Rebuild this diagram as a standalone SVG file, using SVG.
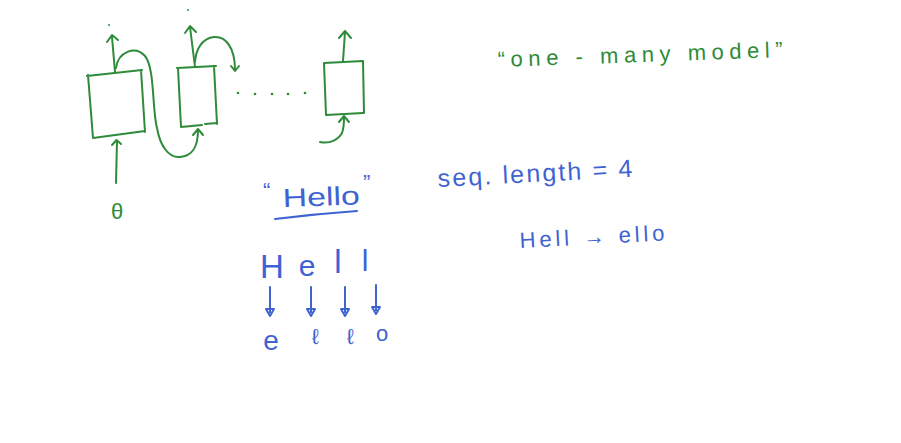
<svg xmlns="http://www.w3.org/2000/svg" width="901" height="443" viewBox="0 0 901 443">
<style>
.g{stroke:#2e8b3a;stroke-width:2;fill:none;stroke-linecap:round;stroke-linejoin:round}
.b{stroke:#3f63d2;stroke-width:2;fill:none;stroke-linecap:round;stroke-linejoin:round}
.tg{fill:#2e8b3a;font-family:"Liberation Sans",Arial,sans-serif}
.tb{fill:#3f63d2;font-family:"Liberation Sans",Arial,sans-serif}
</style>
<rect width="901" height="443" fill="#ffffff"/>
<g id="cell1">
<path class="g" d="M87,76 L142,70 M88,75 L93,138 L145,131 M141,70 L145,132"/>
</g>
<g id="cell2">
<path class="g" d="M177,68 L216,66 M178,68 L181,127 L202,125 M205,124 L217,123 M214,66 L217,124"/>
</g>
<g id="cell3">
<path class="g" d="M324,63 L363,61 M324,63 L326,115 L363,113 M363,61 L364,113"/>
</g>
<g id="input">
<text class="tg" x="117" y="219" font-size="22" text-anchor="middle">θ</text>
</g>
<g id="ellipsis" fill="#2e8b3a">
<circle cx="238" cy="93" r="1.3"/><circle cx="255" cy="94" r="1.3"/><circle cx="272" cy="94" r="1.3"/><circle cx="288" cy="94" r="1.3"/><circle cx="305" cy="93" r="1.3"/>
<circle cx="109" cy="25" r="1"/><circle cx="188" cy="10" r="1"/>
</g>
<g id="connectors">
<path class="g" d="M116,183 L117,141 M112,145 L116.5,140 L121,144"/>
<path class="g" d="M115,72 L112,37 M107,42 L112,35 L118,40"/>
<path class="g" d="M116,68 C118,52 135,45 145,56 C155,68 152,110 157,128 C160,145 168,158 180,157 C192,156 198,148 198,130 M193,135 L198,129 L203,135"/>
<path class="g" d="M195,67 L190,27 M185,33 L190,26 L196,32"/>
<path class="g" d="M195,62 C196,48 203,38 214,37 C226,36 235,48 235,70 M231,66 L235,71 L239,66"/>
<path class="g" d="M343,61 L345,32 M339,38 L345,31 L351,38"/>
<path class="g" d="M320,142 C330,144 338,140 342,133 C344,128 344,122 344,117 M339,122 L344,116 L349,122"/>
<path class="b" d="M270,287 V312 M266,309 L270,316 L274,309 Z"/>
<path class="b" d="M311,287 V312 M307,309 L311,316 L315,309 Z"/>
<path class="b" d="M345,287 V312 M341,309 L345,316 L349,309 Z"/>
<path class="b" d="M376,285 V310 M372,307 L376,314 L380,307 Z"/>
<path class="b" d="M275,219 Q315,214 357,211"/>
</g>
<g id="title">
<text class="tg" x="498" y="67" font-size="22" textLength="285" lengthAdjust="spacing" transform="rotate(-2 498 67)">“one - many model”</text>
</g>
<g id="hello">
<text class="tb" x="263" y="198" font-size="22">“</text>
<text class="tb" x="283" y="207" font-size="26" textLength="77" lengthAdjust="spacingAndGlyphs" transform="rotate(-2 283 207)">Hello</text>
<text class="tb" x="363" y="190" font-size="22">”</text>
</g>
<g id="seq">
<text class="tb" x="438" y="187" font-size="25" textLength="195" lengthAdjust="spacing" transform="rotate(-3 438 187)">seq. length = 4</text>
</g>
<g id="mapping">
<text class="tb" x="520" y="248" font-size="22" textLength="145" lengthAdjust="spacing" transform="rotate(-3 520 248)">Hell → ello</text>
</g>
<g id="inputs">
<text class="tb" x="272" y="278" font-size="33" text-anchor="middle">H</text>
<text class="tb" x="307" y="276" font-size="30" text-anchor="middle">e</text>
<text class="tb" x="338" y="273" font-size="33" text-anchor="middle">l</text>
<text class="tb" x="365" y="271" font-size="30" text-anchor="middle">l</text>
</g>
<g id="outputs">
<text class="tb" x="271" y="350" font-size="28" text-anchor="middle">e</text>
<text class="tb" x="315" y="344" font-size="22" text-anchor="middle">ℓ</text>
<text class="tb" x="350" y="344" font-size="22" text-anchor="middle">ℓ</text>
<text class="tb" x="382" y="341" font-size="22" text-anchor="middle">o</text>
</g>
</svg>
